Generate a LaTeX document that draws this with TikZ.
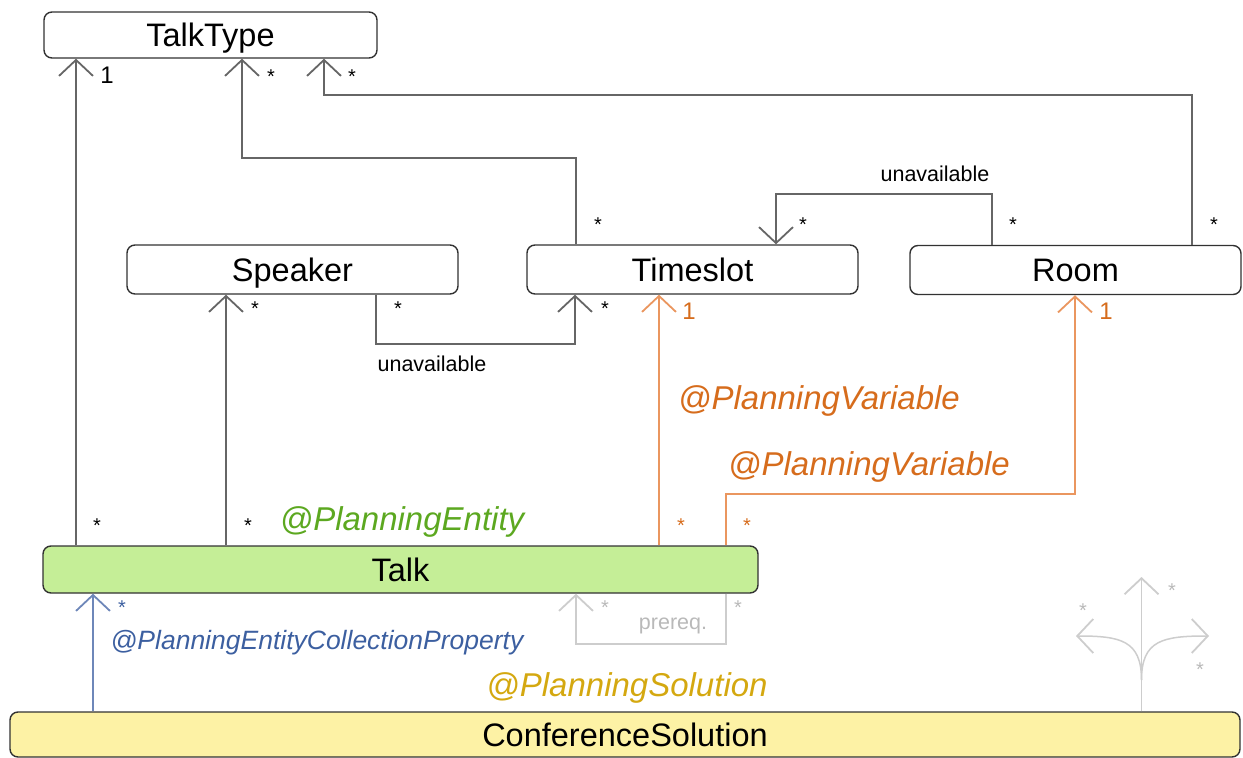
\documentclass[tikz,border=0pt]{standalone}
\usepackage{fontspec}
\setmainfont{Liberation Sans}
\usetikzlibrary{arrows.meta}
\definecolor{lgray}{RGB}{102,102,102}
\definecolor{boxline}{RGB}{50,50,50}
\definecolor{orline}{RGB}{234,150,95}
\definecolor{ortext}{RGB}{214,108,28}
\definecolor{grtext}{RGB}{92,168,32}
\definecolor{blline}{RGB}{110,135,185}
\definecolor{bltext}{RGB}{60,95,160}
\definecolor{yltext}{RGB}{212,168,16}
\definecolor{pregray}{RGB}{205,205,205}
\definecolor{pretext}{RGB}{185,185,185}
\definecolor{talkfill}{RGB}{197,238,151}
\definecolor{solfill}{RGB}{253,242,165}
\tikzset{
  cls/.style={draw=boxline, line width=1.4pt, rounded corners=8pt, fill=white,
    inner sep=0pt, text height=23.3pt, text depth=0pt, font=\fontsize{32.5}{36}\selectfont},
  assoc/.style={draw=lgray, line width=1.8pt, -{Straight Barb[length=16pt,width=34pt,line width=1.8pt]}},
  mult/.style={inner sep=0pt, font=\fontsize{20}{20}\selectfont},
  one/.style={inner sep=0pt, font=\fontsize{24}{24}\selectfont},
  small/.style={inner sep=0pt, font=\fontsize{21.5}{24}\selectfont},
  anno/.style={inner sep=0pt, text height=23.6pt, text depth=0pt, font=\fontsize{33}{36}\selectfont\itshape},
}
\begin{document}
\begin{tikzpicture}[x=1pt,y=-1pt]
\useasboundingbox (0,0) rectangle (1243,758);
% classes
\node[cls, minimum width=333pt, minimum height=46pt] (tt) at (210.5,35) {TalkType};
\node[cls, minimum width=331pt, minimum height=49pt] (sp) at (292.5,269.5) {Speaker};
\node[cls, minimum width=331pt, minimum height=49pt] (ts) at (692.5,269.5) {Timeslot};
\node[cls, minimum width=331pt, minimum height=49pt] (rm) at (1075.5,270) {Room};
\node[cls, fill=talkfill, minimum width=715pt, minimum height=47pt] (tk) at (400.5,569.5) {Talk};
\node[cls, fill=solfill, minimum width=1230pt, minimum height=45pt] (cs) at (625,734.5) {ConferenceSolution};
% Talk -> TalkType, Talk -> Speaker
\draw[assoc] (76,0 |- tk.north) -- (76,0 |- tt.south);
\draw[assoc] (226,0 |- tk.north) -- (226,0 |- sp.south);
% Timeslot -> TalkType
\draw[assoc] (576,0 |- ts.north) -- (576,158) -- (242,158) -- (242,0 |- tt.south);
% Room -> TalkType
\draw[assoc] (1192,0 |- rm.north) -- (1192,95) -- (324,95) -- (324,0 |- tt.south);
% Room -> Timeslot unavailable
\draw[assoc] (992,0 |- rm.north) -- (992,194) -- (776,194) -- (776,0 |- ts.north);
\node[small] (u1) at (935,174) {unavailable};
% Speaker -> Timeslot unavailable
\draw[assoc] (376,0 |- sp.south) -- (376,344) -- (575,344) -- (575,0 |- ts.south);
\node[small] (u2) at (432,364) {unavailable};
% planning variables
\draw[assoc, draw=orline] (659,0 |- tk.north) -- (659,0 |- ts.south);
\draw[assoc, draw=orline] (726,0 |- tk.north) -- (726,494) -- (1075,494) -- (1075,0 |- rm.south);
\node[anno, text=ortext] (pv1) at (819,398) {@PlanningVariable};
\node[anno, text=ortext] (pv2) at (869,464) {@PlanningVariable};
\node[anno, text=grtext] (pe) at (402,519) {@PlanningEntity};
% solution -> talk
\draw[assoc, draw=blline] (93,0 |- cs.north) -- (93,0 |- tk.south);
\node[anno, text=bltext, text height=19pt, font=\fontsize{26.5}{30}\selectfont\itshape] (pecp) at (317,640) {@PlanningEntityCollectionProperty};
\node[anno, text=yltext] (ps) at (627,685) {@PlanningSolution};
% prereq
\draw[assoc, draw=pregray] (726,0 |- tk.south) -- (726,644) -- (576,644) -- (576,0 |- tk.south);
\node[small, text=pretext] (pq) at (673,626) {prereq.};
% multiplicities (black)
\foreach \p/\n in {{97,526}/m1,{248,526}/m2,{255,309}/m3,{271,77}/m4,{352,77}/m5,{598,225}/m6,{803,225}/m7,{1013,225}/m8,{1214,225}/m9,{398,309}/m10,{605,309}/m11}
  \node[mult] (\n) at (\p) {*};
\foreach \p/\n in {{681,526}/m12,{747,526}/m13}
  \node[mult, text=ortext] (\n) at (\p) {*};
\node[mult, text=bltext] (m14) at (122,608) {*};
\foreach \p/\n in {{605,608}/m15,{738,608}/m16}
  \node[mult, text=pretext] (\n) at (\p) {*};
\node[one] (o1) at (107,75) {1};
\node[one, text=ortext] (o2) at (689,311) {1};
\node[one, text=ortext] (o3) at (1106,311) {1};
% tree icon
\coordinate (tbase) at (1141.5,0 |- cs.north);
\coordinate (ttop) at (1141.5,577);
\coordinate (tleft) at (1076,636);
\coordinate (tright) at (1209,636);
\draw[assoc, draw=pregray, line width=1.5pt] (tbase) -- (ttop);
\draw[assoc, draw=pregray, line width=1.5pt] (1141.5,680) .. controls (1141.5,640) and (1120,636) .. (tleft);
\draw[assoc, draw=pregray, line width=1.5pt] (1141.5,680) .. controls (1141.5,640) and (1163,636) .. (tright);
\node[mult, text=pretext] (m17) at (1172,591) {*};
\node[mult, text=pretext] (m18) at (1083,611) {*};
\node[mult, text=pretext] (m19) at (1200,670) {*};
\end{tikzpicture}
\end{document}
